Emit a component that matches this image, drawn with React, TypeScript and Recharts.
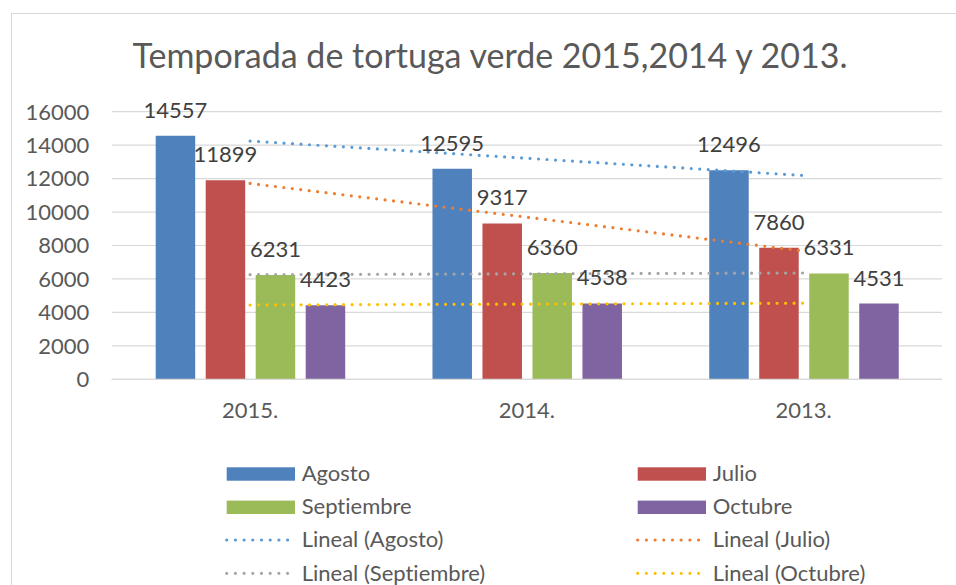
import React from 'react';
import { ComposedChart, Bar, Line, XAxis, YAxis, CartesianGrid, LabelList, Legend } from 'recharts';

const years = ['2015.', '2014.', '2013.'];
const agosto = [14557, 12595, 12496];
const julio = [11899, 9317, 7860];
const septiembre = [6231, 6360, 6331];
const octubre = [4423, 4538, 4531];
const yTicks = [0, 2000, 4000, 6000, 8000, 10000, 12000, 14000, 16000];
const titleText = 'Temporada de tortuga verde 2015,2014 y 2013.';

const series = [
  { key: 'agosto', name: 'Agosto', values: agosto, color: '#4F81BD', trend: '#5B9BD5' },
  { key: 'julio', name: 'Julio', values: julio, color: '#C0504D', trend: '#ED7D31' },
  { key: 'septiembre', name: 'Septiembre', values: septiembre, color: '#9BBB59', trend: '#A5A5A5' },
  { key: 'octubre', name: 'Octubre', values: octubre, color: '#8064A2', trend: '#FFC000' },
];

// Excel-style linear trendline (least squares over category index 1..n)
function linearFit(values: number[]): number[] {
  const n = values.length;
  const xs = values.map((_, i) => i + 1);
  const mx = xs.reduce((a, b) => a + b, 0) / n;
  const my = values.reduce((a, b) => a + b, 0) / n;
  let num = 0;
  let den = 0;
  xs.forEach((x, i) => {
    num += (x - mx) * (values[i] - my);
    den += (x - mx) * (x - mx);
  });
  const slope = num / den;
  const intercept = my - slope * mx;
  return xs.map((x) => intercept + slope * x);
}

const data = years.map((year, i) => {
  const row: any = { year };
  series.forEach((s) => {
    row[s.key] = s.values[i];
    row[s.key + 'Trend'] = linearFit(s.values)[i];
  });
  return row;
});

const legendItems = [
  ...series.map((s) => ({ label: s.name, color: s.color, kind: 'bar' })),
  ...series.map((s) => ({ label: `Lineal (${s.name})`, color: s.trend, kind: 'line' })),
];

const FONT = 'Lato, "Noto Sans", sans-serif';
const FS = 22;

function renderLegend() {
  const colX = [226.7, 637.7];
  return (
    <svg width={956} height={135} style={{ display: 'block' }}>
      {legendItems.map((it, i) => {
        const col = i % 2;
        const row = Math.floor(i / 2);
        const x0 = colX[col];
        const base = 30.7 + row * 33.3;
        return (
          <g key={it.label}>
            {it.kind === 'bar' ? (
              <rect x={x0} y={base - 13.4} width={68.3} height={13.4} fill={it.color} />
            ) : (
              <line
                x1={x0}
                x2={x0 + 61}
                y1={base - 7.3}
                y2={base - 7.3}
                stroke={it.color}
                strokeWidth={3.2}
                strokeLinecap="round"
                strokeDasharray="0 8.7"
              />
            )}
            <text x={x0 + 75} y={base} fontSize={FS} fill="#595959" fontFamily={FONT}>
              {it.label}
            </text>
          </g>
        );
      })}
    </svg>
  );
}

export default function App() {
  return (
    <div
      style={{
        position: 'absolute',
        left: 0,
        top: 0,
        width: 956,
        height: 585,
        overflow: 'hidden',
        background: '#fff',
        fontFamily: FONT,
        fontVariantLigatures: 'none',
      }}
    >
      <div
        style={{
          position: 'absolute',
          left: 11,
          top: 13,
          width: 1000,
          height: 700,
          border: '1px solid #D9D9D9',
        }}
      />
      <div style={{ position: 'absolute', left: 0, top: 0 }}>
        <ComposedChart
          width={956}
          height={585}
          data={data}
          margin={{ top: 111.7, right: 14, bottom: 175.7, left: 0 }}
          barSize={39.5}
          barGap={10.5}
        >
          <CartesianGrid vertical={false} stroke="#D9D9D9" strokeWidth={1.2} />
          <XAxis
            dataKey="year"
            height={30}
            tickLine={false}
            tickSize={0}
            tickMargin={23.1}
            axisLine={{ stroke: '#D9D9D9', strokeWidth: 1.2 }}
            tick={{ fill: '#595959', fontSize: FS, fontFamily: FONT }}
            interval={0}
          />
          <YAxis
            width={111.7}
            domain={[0, 16000]}
            ticks={yTicks}
            tickLine={false}
            axisLine={false}
            tickSize={0}
            tickMargin={22.4}
            tick={{ fill: '#595959', fontSize: FS, fontFamily: FONT }}
            interval={0}
          />
          {series.map((s) => (
            <Bar key={s.key} dataKey={s.key} name={s.name} fill={s.color} isAnimationActive={false}>
              <LabelList
                dataKey={s.key}
                position="top"
                offset={18}
                fill="#404040"
                fontSize={FS}
                fontFamily={FONT}
              />
            </Bar>
          ))}
          {series.map((s) => (
            <Line
              key={s.key + 'Trend'}
              type="linear"
              dataKey={s.key + 'Trend'}
              name={`Lineal (${s.name})`}
              stroke={s.trend}
              strokeWidth={3.2}
              strokeLinecap="round"
              strokeDasharray="0 8.5"
              dot={false}
              activeDot={false}
              isAnimationActive={false}
            />
          ))}
          <Legend
            layout="horizontal"
            verticalAlign="middle"
            align="center"
            wrapperStyle={{ left: 0, top: 450, width: 956, height: 135 }}
            content={renderLegend}
          />
        </ComposedChart>
      </div>
      <svg
        width={956}
        height={100}
        style={{ position: 'absolute', left: 0, top: 0, pointerEvents: 'none' }}
      >
        <text x={490} y={68.3} textAnchor="middle" fontSize={34} fill="#595959" fontFamily={FONT}>
          {titleText}
        </text>
      </svg>
    </div>
  );
}
